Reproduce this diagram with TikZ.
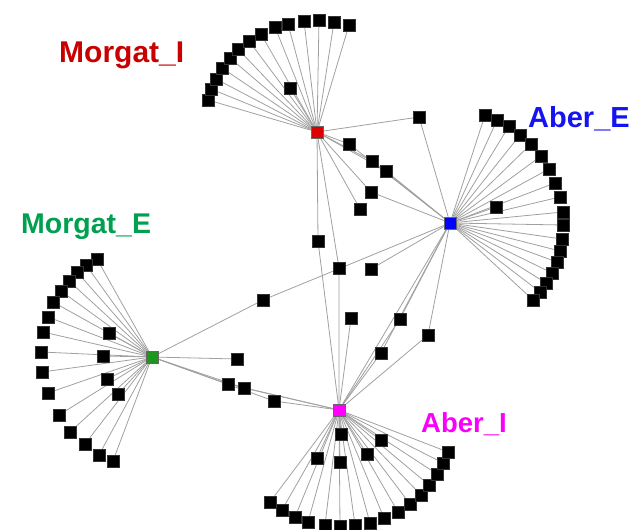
\documentclass[tikz,border=0pt]{standalone}
\usepackage{fontspec}
\setmainfont{Liberation Sans}
\usetikzlibrary{backgrounds}
\definecolor{lblred}{RGB}{200,0,0}
\definecolor{lblblue}{RGB}{20,20,240}
\definecolor{lblgreen}{RGB}{0,160,80}
\definecolor{lblmag}{RGB}{250,0,250}
\definecolor{hubred}{RGB}{220,0,0}
\definecolor{hubblue}{RGB}{0,0,255}
\definecolor{hubgreen}{RGB}{30,150,30}
\definecolor{hubmag}{RGB}{255,0,255}
\definecolor{edgegray}{RGB}{160,160,160}
\tikzset{
  leaf/.style={rectangle,fill=black,draw=black!80,line width=0.4pt,minimum size=12pt,inner sep=0pt},
  hub/.style={rectangle,draw=black!60,line width=0.5pt,minimum size=12pt,inner sep=0pt},
  link/.style={draw=edgegray,line width=0.8pt},
  lbl/.style={font=\bfseries,anchor=base west,inner sep=0pt}
}
\begin{document}
\begin{tikzpicture}[x=1pt,y=-1pt]
\useasboundingbox (0,0) rectangle (633,530);
% hubs
\node[hub,fill=hubred]   (R) at (317,132) {};
\node[hub,fill=hubblue]  (B) at (450,223) {};
\node[hub,fill=hubgreen] (G) at (152,357) {};
\node[hub,fill=hubmag]   (M) at (339,410) {};
% labels
\node[lbl,text=lblred,font=\fontsize{30}{36}\selectfont\bfseries] (lR) at (59,63) {Morgat\_I};
\node[lbl,text=lblblue,font=\fontsize{29}{35}\selectfont\bfseries] (lB) at (528,127) {Aber\_E};
\node[lbl,text=lblgreen,font=\fontsize{28.5}{34}\selectfont\bfseries] (lG) at (21,233) {Morgat\_E};
\node[lbl,text=lblmag,font=\fontsize{27.5}{33}\selectfont\bfseries] (lM) at (421,432) {Aber\_I};
% red fan
\foreach \p [count=\i] in {(208,100),(211,89),(216,79),(222,68),(230,58),(238,49),(249,41),(261,34),(275,27),(288,24),(304,21),(319,20),(334,22),(349,25),(290,88),(360,209)}{
  \node[leaf] (r\i) at \p {};
  \begin{scope}[on background layer]\draw[link] (R) -- (r\i);\end{scope}
}
% blue fan
\foreach \p [count=\i] in {(485,115),(497,120),(509,126),(520,135),(531,144),(541,156),(549,169),(555,183),(560,197),(563,212),(563,225),(562,239),(560,251),(557,262),(552,273),(546,283),(540,292),(533,300),(496,207),(371,269)}{
  \node[leaf] (b\i) at \p {};
  \begin{scope}[on background layer]\draw[link] (B) -- (b\i);\end{scope}
}
% green fan
\foreach \p [count=\i] in {(97,259),(86,265),(77,272),(69,281),(61,291),(53,302),(48,317),(43,332),(41,352),(42,372),(48,393),(59,415),(70,432),(85,444),(99,455),(113,461),(109,333),(103,356),(107,379),(118,394),(237,359)}{
  \node[leaf] (g\i) at \p {};
  \begin{scope}[on background layer]\draw[link] (G) -- (g\i);\end{scope}
}
% magenta fan
\foreach \p [count=\i] in {(270,502),(282,510),(295,517),(308,522),(325,525),(340,526),(355,525),(370,523),(384,518),(398,512),(410,504),(421,495),(429,485),(437,474),(443,463),(448,452),(341,434),(317,458),(340,462),(367,454),(381,440),(351,318)}{
  \node[leaf] (m\i) at \p {};
  \begin{scope}[on background layer]\draw[link] (M) -- (m\i);\end{scope}
}
% shared nodes
\node[leaf] (rb1) at (419,117) {};
\node[leaf] (rb2) at (349,144) {};
\node[leaf] (rb3) at (372,161) {};
\node[leaf] (rb4) at (386,171) {};
\node[leaf] (rb5) at (371,192) {};
\node[leaf] (rm1) at (318,241) {};
\node[leaf] (rm2) at (339,268) {};
\node[leaf] (gb1) at (263,300) {};
\node[leaf] (bm1) at (400,319) {};
\node[leaf] (bm2) at (381,353) {};
\node[leaf] (bm3) at (428,335) {};
\node[leaf] (gm1) at (228,384) {};
\node[leaf] (gm2) at (244,388) {};
\node[leaf] (gm3) at (274,401) {};
\begin{scope}[on background layer]
  \foreach \n in {rb1,rb2,rb3,rb4,rb5}{\draw[link] (R) -- (\n) -- (B);}
  \foreach \n in {rm1,rm2}{\draw[link] (R) -- (\n) -- (M);}
  \draw[link] (G) -- (gb1) -- (B);
  \foreach \n in {bm1,bm2,bm3}{\draw[link] (B) -- (\n) -- (M);}
  \draw[link] (B) -- (M);
  \foreach \n in {gm1,gm2,gm3}{\draw[link] (G) -- (\n) -- (M);}
\end{scope}
\end{tikzpicture}
\end{document}
